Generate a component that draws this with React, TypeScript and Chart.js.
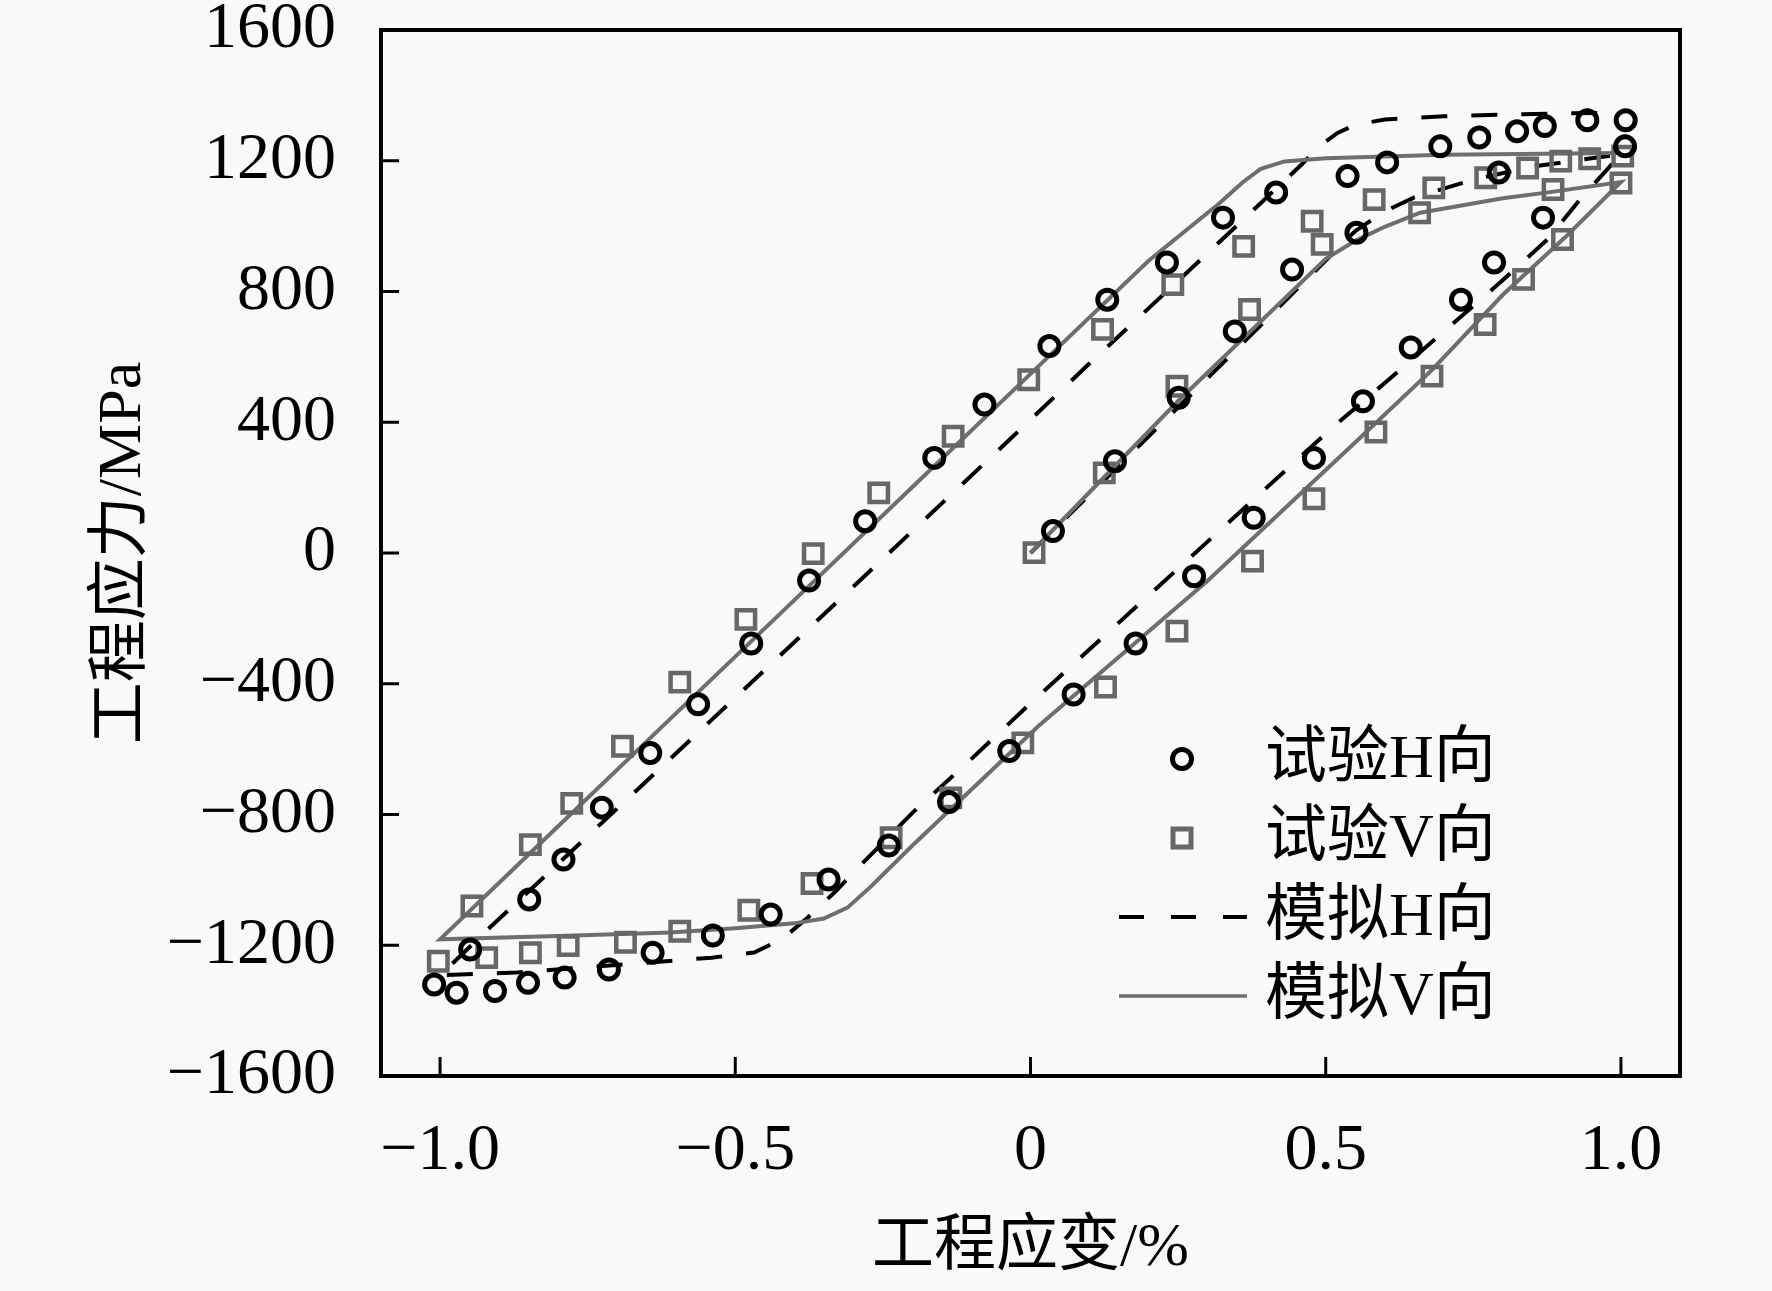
import { useEffect, useRef } from "react";
import { Chart, registerables } from "chart.js";

Chart.register(...registerables);

const xTickValues = [-1, -0.5, 0, 0.5, 1];
const yTickValues = [-1600, -1200, -800, -400, 0, 400, 800, 1200, 1600];

// 试验H向 (circles): initial loading, unloading, reloading
const testHStrain = [
  0.038, 0.143, 0.251, 0.346, 0.443, 0.552, 0.793, 1.007,
  0.868, 0.785, 0.729, 0.644, 0.563, 0.48, 0.378, 0.277, 0.178, 0.073, -0.036, -0.138, -0.24, -0.342,
  -0.44, -0.538, -0.64, -0.714, -0.789, -0.851, -0.907, -0.972, -1.01,
  -0.949, -0.849, -0.791, -0.726, -0.644, -0.563, -0.473, -0.375, -0.28, -0.163, -0.078, 0.032, 0.13,
  0.231, 0.326, 0.416, 0.537, 0.604, 0.694, 0.76, 0.824, 0.871, 0.943, 1.008,
];
const testHStress = [
  67, 281, 475, 678, 867, 980, 1164, 1244,
  1026, 889, 775, 629, 464, 291, 108, -71, -277, -433, -606, -762, -895, -999,
  -1106, -1170, -1223, -1274, -1299, -1315, -1340, -1345, -1320,
  -1213, -1060, -938, -779, -612, -463, -277, -84, 97, 291, 454, 633, 775,
  889, 1026, 1103, 1153, 1195, 1244, 1271, 1290, 1306, 1324, 1324,
];

// 试验V向 (squares)
const testVStrain = [
  0.006, 0.125, 0.248, 0.371, 0.494, 0.659, 0.885, 1.0,
  0.901, 0.835, 0.77, 0.68, 0.585, 0.48, 0.376, 0.248, 0.127, -0.013, -0.135, -0.236, -0.37,
  -0.477, -0.594, -0.686, -0.783, -0.847, -0.921, -1.003,
  -0.946, -0.847, -0.777, -0.691, -0.594, -0.482, -0.368, -0.257, -0.131, -0.003, 0.122, 0.241,
  0.361, 0.477, 0.582, 0.683, 0.771, 0.842, 0.898, 0.947, 1.003,
];
const testVStress = [
  1, 245, 510, 745, 944, 1041, 1112, 1132,
  959, 837, 699, 541, 370, 166, -25, -239, -410, -581, -749, -871, -1011,
  -1093, -1157, -1191, -1201, -1223, -1238, -1249,
  -1080, -892, -766, -591, -395, -203, -2, 184, 357, 530, 684, 821,
  938, 1015, 1081, 1117, 1148, 1178, 1199, 1206, 1214,
];

// 模拟H向 (dashed)
const simHStrain = [
  0, 0.3, 0.55, 0.6, 0.65, 0.75, 0.85, 1.0,
  0.93, 0.876, 0.8, 0.6, 0.512, 0.4, 0.2, 0.069, 0, -0.103, -0.2, -0.285, -0.33, -0.377, -0.42,
  -0.468, -0.54, -0.64, -0.87, -1.0,
  -0.918, -0.68, -0.545, -0.033, 0.097, 0.294, 0.392, 0.46, 0.49, 0.52, 0.55, 0.6, 0.7, 0.8, 0.9, 1.0,
];
const simHStress = [
  0, 535, 985, 1045, 1088, 1142, 1182, 1220,
  1080, 960, 835, 520, 385, 200, -130, -346, -460, -635, -795, -950, -1035, -1115, -1180,
  -1222, -1238, -1252, -1283, -1292,
  -1150, -748, -519, 351, 575, 907, 1074, 1190, 1245, 1285, 1310, 1326, 1336, 1341, 1345, 1347,
];

// 模拟V向 (solid)
const simVStrain = [
  0, 0.25, 0.5, 0.55, 0.6, 0.66, 0.8, 0.88, 1.0,
  0.905, 0.8, 0.68, 0.561, 0.3, 0.013, -0.2, -0.27, -0.31, -0.35, -0.4, -0.5, -0.61, -0.8, -1.0,
  -0.8, -0.6, -0.4, -0.2, 0, 0.2, 0.32, 0.36, 0.39, 0.43, 0.5, 0.7, 1.0,
];
const simVStress = [
  0, 465, 900, 955, 998, 1041, 1085, 1104, 1135,
  965, 790, 560, 357, -85, -530, -895, -1020, -1085, -1118, -1133, -1148, -1161, -1172, -1182,
  -836, -490, -144, 202, 548, 894, 1070, 1135, 1175, 1198, 1208, 1218, 1224,
];

const toPoints = (xs: number[], ys: number[]) => xs.map((x, i) => ({ x, y: ys[i] }));

const fmt = (v: number, digits: number) =>
  v === 0 ? "0" : (v < 0 ? "\u2212" : "") + Math.abs(v).toFixed(digits);

const SERIF = "'Liberation Serif', 'Times New Roman', serif";
const CJK = "'Liberation Serif', 'Noto Sans CJK SC', serif";
const BG = "#f9f9f9";
const GRAY_MARK = "#676767";
const GRAY_LINE = "#6e6e6e";

const legendItems = [
  { label: "试验H向", kind: "circle" },
  { label: "试验V向", kind: "square" },
  { label: "模拟H向", kind: "dash" },
  { label: "模拟V向", kind: "solid" },
];

const backgroundPlugin = {
  id: "bg",
  beforeDraw(chart: Chart) {
    const { ctx, width, height } = chart;
    ctx.save();
    ctx.fillStyle = BG;
    ctx.fillRect(0, 0, width, height);
    ctx.restore();
  },
};

const framePlugin = {
  id: "frame",
  afterDatasetsDraw(chart: Chart) {
    const { ctx, chartArea, scales } = chart;
    const { left, right, top, bottom } = chartArea;
    ctx.save();
    ctx.strokeStyle = "#000";
    ctx.lineWidth = 3;
    ctx.beginPath();
    yTickValues.forEach((v) => {
      const y = scales.y.getPixelForValue(v);
      ctx.moveTo(left, y);
      ctx.lineTo(left + 18, y);
    });
    xTickValues.forEach((v) => {
      const x = scales.x.getPixelForValue(v);
      ctx.moveTo(x, bottom);
      ctx.lineTo(x, bottom - 19);
    });
    ctx.stroke();
    ctx.lineWidth = 4;
    ctx.strokeRect(left, top, right - left, bottom - top);
    ctx.restore();
  },
};

const legendPlugin = {
  id: "insideLegend",
  afterDraw(chart: Chart) {
    const { ctx, chartArea } = chart;
    const markX = chartArea.left + 801;
    const textX = chartArea.left + 884;
    const rowY = chartArea.top + 729;
    const gap = 79;
    ctx.save();
    ctx.font = `62px ${CJK}`;
    ctx.fillStyle = "#000";
    ctx.textBaseline = "middle";
    ctx.textAlign = "left";
    legendItems.forEach((item, i) => {
      const y = rowY + i * gap;
      ctx.save();
      if (item.kind === "circle") {
        ctx.strokeStyle = "#000";
        ctx.lineWidth = 5;
        ctx.beginPath();
        ctx.arc(markX, y, 9.5, 0, Math.PI * 2);
        ctx.stroke();
      } else if (item.kind === "square") {
        ctx.strokeStyle = GRAY_MARK;
        ctx.lineWidth = 5;
        ctx.strokeRect(markX - 9, y - 9, 18, 18);
      } else {
        ctx.strokeStyle = item.kind === "dash" ? "#000" : GRAY_LINE;
        ctx.lineWidth = item.kind === "dash" ? 4 : 3.5;
        ctx.setLineDash(item.kind === "dash" ? [25, 27] : []);
        ctx.beginPath();
        ctx.moveTo(markX - 63, y);
        ctx.lineTo(markX + 65, y);
        ctx.stroke();
      }
      ctx.restore();
      ctx.fillText(item.label, textX, y + 2);
    });
    ctx.restore();
  },
};

export default function App() {
  const chartRef = useRef<HTMLCanvasElement>(null);
  const chartInstance = useRef<Chart | null>(null);

  useEffect(() => {
    document.body.style.margin = "0";
    document.body.style.background = BG;
    if (!chartRef.current) return;
    if (chartInstance.current) chartInstance.current.destroy();
    const ctx = chartRef.current.getContext("2d");
    if (!ctx) return;

    chartInstance.current = new Chart(ctx, {
      type: "scatter",
      data: {
        datasets: [
          {
            label: "试验H向",
            data: toPoints(testHStrain, testHStress),
            pointStyle: "circle",
            pointRadius: 9.5,
            pointBorderWidth: 5,
            borderColor: "#000",
            backgroundColor: "transparent",
          },
          {
            label: "试验V向",
            data: toPoints(testVStrain, testVStress),
            pointStyle: "rect",
            pointRadius: 13,
            pointBorderWidth: 4.5,
            borderColor: GRAY_MARK,
            backgroundColor: "transparent",
          },
          {
            label: "模拟V向",
            data: toPoints(simVStrain, simVStress),
            showLine: true,
            pointRadius: 0,
            borderColor: GRAY_LINE,
            borderWidth: 4,
            tension: 0,
          },
          {
            label: "模拟H向",
            data: toPoints(simHStrain, simHStress),
            showLine: true,
            pointRadius: 0,
            borderColor: "#000",
            borderWidth: 4,
            borderDash: [26, 24],
            tension: 0,
          },
        ],
      },
      options: {
        responsive: false,
        animation: false,
        devicePixelRatio: 1,
        layout: { padding: { top: 30, right: 92, left: 0, bottom: 0 } },
        plugins: {
          legend: { display: false },
          tooltip: { enabled: false },
        },
        scales: {
          x: {
            type: "linear",
            min: -1.1,
            max: 1.1,
            afterBuildTicks: (scale) => {
              scale.ticks = xTickValues.map((value) => ({ value }));
            },
            afterFit: (scale) => {
              scale.height = 215;
              scale.paddingLeft = 0;
              scale.paddingRight = 0;
            },
            grid: { display: false },
            border: { display: false },
            ticks: {
              autoSkip: false,
              maxRotation: 0,
              padding: 28,
              color: "#000",
              font: { family: SERIF, size: 66 },
              callback: (v) => fmt(Number(v), 1),
            },
            title: {
              display: true,
              text: "工程应变/%",
              color: "#000",
              font: { family: CJK, size: 62, lineHeight: 1.2 },
              padding: { top: 0, bottom: 5 },
            },
          },
          y: {
            type: "linear",
            min: -1600,
            max: 1600,
            afterBuildTicks: (scale) => {
              scale.ticks = yTickValues.map((value) => ({ value }));
            },
            afterFit: (scale) => {
              scale.width = 381;
              scale.paddingTop = 0;
              scale.paddingBottom = 0;
            },
            grid: { display: false },
            border: { display: false },
            ticks: {
              autoSkip: false,
              padding: 37,
              color: "#000",
              font: { family: SERIF, size: 66 },
              callback: (v) => fmt(Number(v), 0),
            },
            title: {
              display: true,
              text: "工程应力/MPa",
              color: "#000",
              font: { family: CJK, size: 62, lineHeight: 1.2 },
              padding: { top: 87, bottom: 0 },
            },
          },
        },
      },
      plugins: [backgroundPlugin, framePlugin, legendPlugin],
    });

    return () => {
      if (chartInstance.current) {
        chartInstance.current.destroy();
        chartInstance.current = null;
      }
    };
  }, []);

  return (
    <div style={{ width: 1772, height: 1291 }}>
      <canvas ref={chartRef} width={1772} height={1291}></canvas>
    </div>
  );
}
